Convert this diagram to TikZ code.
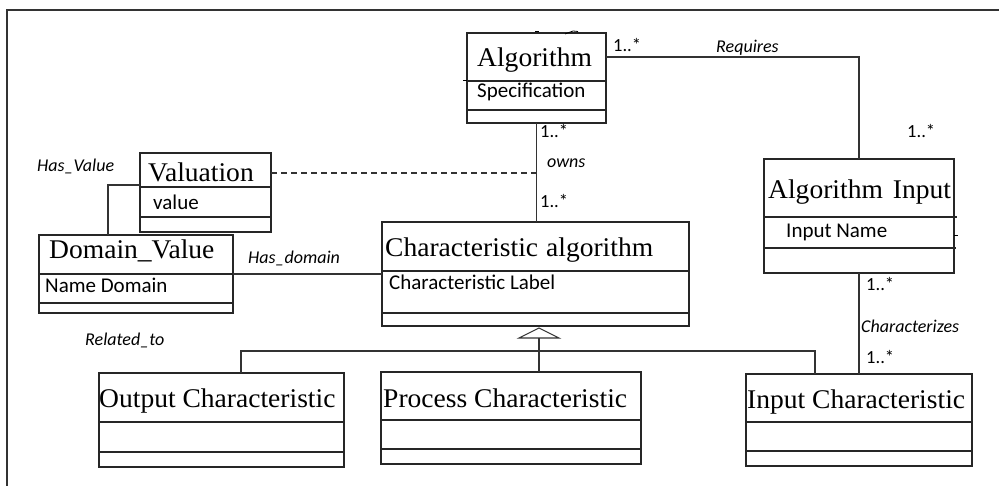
\documentclass[tikz,border=0pt]{standalone}
\usepackage{fontspec}
\setmainfont{Carlito}
\newfontfamily\tnr[FakeStretch=1.02]{Liberation Serif}
\usetikzlibrary{calc}
\tikzset{
  cls/.style={draw=black!85, line width=1.2pt, inner sep=0pt, outer sep=0pt, rectangle},
  divl/.style={draw=black!85, line width=1.1pt},
  ttl/.style={anchor=base west, inner sep=0pt, font=\tnr\fontsize{27}{29}\selectfont},
  attr/.style={anchor=base west, inner sep=0pt, font=\fontsize{21}{23}\selectfont},
  lbl/.style={anchor=base west, inner sep=0pt, font=\itshape\fontsize{18}{20}\selectfont},
  mult/.style={anchor=base west, inner sep=0pt, font=\fontsize{18.5}{20}\selectfont},
  conn/.style={draw=black!80, line width=1.1pt},
  frame/.style={draw=black!80, line width=1.8pt},
}
% name, x1, y1, x2, y2, divider1, divider2
\newcommand\umlbox[7]{%
  \node[cls, minimum width={(#4-#2)*1pt}, minimum height={(#5-#3)*1pt}] (#1) at ({(#2+#4)/2},{(#3+#5)/2}) {};
  \draw[divl] (#1.west |- 0,#6) -- (#1.east |- 0,#6);
  \draw[divl] (#1.west |- 0,#7) -- (#1.east |- 0,#7);
}
\begin{document}
\begin{tikzpicture}[x=1pt, y=-1pt]
\useasboundingbox (0,0) rectangle (999,486);
\fill[white] (0,0) rectangle (999,486);
\draw[frame] (999,10) -- (7,10) -- (7,486);

% class boxes
\umlbox{alg}{467}{33}{606}{123}{81}{110}
\umlbox{val}{140}{153}{271}{232}{187}{217}
\umlbox{dv}{39}{235}{233}{313}{274}{303}
\umlbox{ca}{382}{222}{689}{326}{271}{313}
\umlbox{ainp}{764}{159}{954}{273}{217}{248}
\umlbox{oc}{99}{373}{344}{467}{422}{452}
\umlbox{pc}{381}{372}{641}{464}{420}{449}
\umlbox{ic}{746}{374}{972}{466}{422}{451}

% small stray marks
\draw[line width=0.8pt] (535,31.5) -- (539,31.5);
\draw[line width=0.8pt] (565,34) -- (573,31) -- (578,31.5);
\draw[line width=0.8pt] (463,80) -- (467,80);
\draw[divl] (ainp.east |- 0,217) -- ++(3,0);
\draw[divl] (ainp.east |- 0,248) -- ++(2,0);
\draw[line width=0.8pt] (ainp.east |- 0,235) -- ++(4,0);

% titles
\node[ttl] (algT) at (477,67) {Algorithm};
\node[ttl] (valT) at (148,182) {Valuation};
\node[ttl] (dvT) at (49,259) {Domain\_Value};
\node[ttl] (caT) at (385,257) {Characteristic\hspace{8pt}algorithm};
\node[ttl] (ainpT) at (768,199) {Algorithm\hspace{10pt}Input};
\node[ttl] (ocT) at (99,407) {Output Characteristic};
\node[ttl] (pcT) at (383,407) {Process Characteristic};
\node[ttl] (icT) at (747,408) {Input Characteristic};

% attributes
\node[attr] (algA) at (477,98) {Specification};
\node[attr] (valA) at (153,210) {value};
\node[attr] (dvA) at (45,293) {Name Domain};
\node[attr] (caA) at (389,290) {Characteristic Label};
\node[attr] (ainpA) at (786,238) {Input Name};

% connectors
\draw[conn] ([yshift=-24pt]alg.north east) -| (ainp.north);
\draw[conn] (alg.south) -- (alg.south |- ca.north);
\draw[conn, dash pattern=on 6pt off 4pt] ([yshift=-20pt]val.north east) -- (alg.south |- 0,173);
\draw[conn] ([yshift=-32pt]val.north west) -| ([xshift=69pt]dv.north west);
\coordinate (hd) at ([yshift=-39pt]dv.north east);
\draw[conn] (hd) -- (hd -| ca.west);
\draw[conn] (ainp.south) -- (ic.north);

% generalization
\coordinate (gt) at ([yshift=-2pt]ca.south -| 539,0);
\draw[conn] (gt) -- ++(20,10) -- ++(-40,0) -- cycle;
\coordinate (gb) at ($(gt)+(0,10)$);
\draw[conn] (gb) -- (gb |- pc.north);
\coordinate (bar) at (539,351);
\draw[conn] ([xshift=19.5pt]oc.north) |- (bar) -| ([xshift=-44pt]ic.north);

% labels
\node[mult] (m1) at (613,52) {1..*};
\node[lbl] (lreq) at (716,53) {Requires};
\node[mult] (m2) at (907,138) {1..*};
\node[mult] (m3) at (540,138) {1..*};
\node[lbl] (lown) at (547,168) {owns};
\node[mult] (m4) at (540,208) {1..*};
\node[mult] (m5) at (866,291) {1..*};
\node[lbl] (lchr) at (861,333) {Characterizes};
\node[mult] (m6) at (866,363) {1..*};
\node[lbl] (lhv) at (37,172) {Has\_Value};
\node[lbl] (lhd) at (248,264) {Has\_domain};
\node[lbl] (lrel) at (85,345) {Related\_to};
\end{tikzpicture}
\end{document}
